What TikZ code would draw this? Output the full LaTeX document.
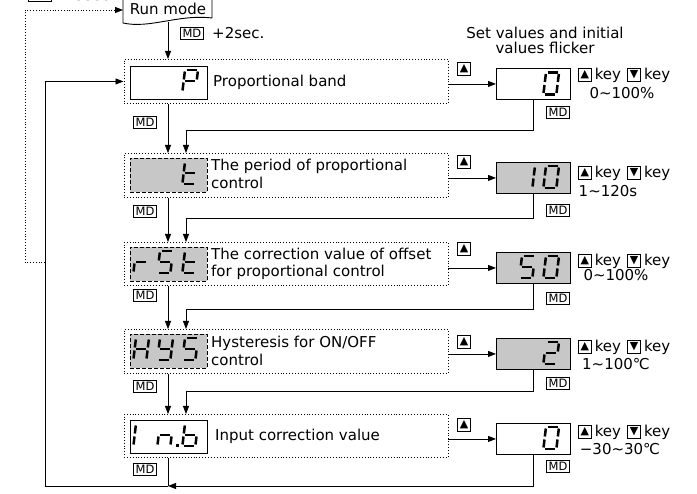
\documentclass[tikz,border=0pt]{standalone}
\usepackage{fontspec}
\setmainfont{DejaVu Sans}
\usetikzlibrary{arrows.meta, positioning, calc}

% seven segment pieces, origin at top left of a digit
\def\sega{(1.5,0) -- (11.5,0)}
\def\segb{(13,1.5) -- (13,9.5)}
\def\segc{(13,12.5) -- (13,20.5)}
\def\segd{(1.5,22) -- (11.5,22)}
\def\sege{(0,12.5) -- (0,20.5)}
\def\segf{(0,1.5) -- (0,9.5)}
\def\segg{(1.5,11) -- (11.5,11)}
\newcommand{\segchar}[3]{%
  \begin{scope}[shift={(#1,#2)}, xslant=0.12]
    \foreach \s in {#3} {
      \edef\segpath{\csname seg\s\endcsname}
      \draw[segline] \segpath;
    }
  \end{scope}}

\begin{document}
\begin{tikzpicture}[x=1pt, y=-1pt,
    grp/.style={draw, dotted, line width=0.9pt, anchor=north west, minimum width=324pt, minimum height=44pt, inner sep=0},
    disp/.style={draw, line width=0.9pt, anchor=north west, minimum width=77pt, minimum height=33pt, inner sep=0},
    dispgray/.style={disp, dash pattern=on 4pt off 2pt, fill=black!22},
    val/.style={draw, line width=0.9pt, anchor=north west, minimum width=74pt, minimum height=31pt, inner sep=0},
    lbl/.style={anchor=west, align=left, font=\fontsize{15}{17.5}\selectfont, inner sep=0},
    mdbox/.style={draw, line width=0.6pt, font=\fontsize{11.5}{11.5}\selectfont, inner xsep=2.2pt, inner ysep=1.8pt},
    keybox/.style={draw, line width=0.6pt, minimum size=13pt, inner sep=0, font=\fontsize{11}{11}\selectfont},
    flow/.style={-{Triangle[length=8pt, width=6pt]}, line width=0.8pt},
    segline/.style={line width=2.5pt, line cap=butt}]
\useasboundingbox (0,0) rectangle (697,494);

% columns
\coordinate (colA) at (168,0);
\coordinate (colB) at (186,0);
\coordinate (colL) at (45,0);

% run mode
\node[mdbox, anchor=south west] (mdtop) at (28,2) {MD};
\node[lbl, anchor=base west] (sec3) at (62,0.5) {+3sec.};
\draw[line width=0.9pt] (123,-5) -- (123,23) .. controls (150,29) and (178,14) .. (212,18) -- (212,-5);
\node[lbl, anchor=center] (run) at (168,9) {Run mode};
\coordinate (runw) at (123,10);
\coordinate (runs) at (168,22);
\node[mdbox, anchor=west] (mdrun) at (180,33) {MD};
\node[lbl] (sec2) at (212,33) {+2sec.};
\node[lbl, anchor=center, align=center, font=\fontsize{15}{15}\selectfont] (flick) at (545,40) {Set values and initial\\values flicker};

% groups
\node[grp] (grpP) at (123.5,59) {};
\node[grp] (grpT) at (123.5,153) {};
\node[grp, minimum height=43pt] (grpR) at (123.5,242) {};
\node[grp] (grpH) at (123.5,329) {};
\node[grp, minimum height=43pt] (grpI) at (123.5,414) {};

% displays
\node[disp] (dispP) at (130,66) {};
\node[dispgray, minimum height=34pt] (dispT) at (130,158) {};
\node[dispgray, minimum height=34pt] (dispR) at (130,247) {};
\node[dispgray, minimum height=34pt] (dispH) at (130,334) {};
\node[disp] (dispI) at (130,420) {};

\node[lbl] (txtP) at (213,82) {Proportional band};
\node[lbl] (txtT) at (211,174) {The period of proportional\\control};
\node[lbl] (txtR) at (211,264) {The correction value of offset\\for proportional control};
\node[lbl] (txtH) at (211,351) {Hysteresis for ON/OFF\\control};
\node[lbl] (txtI) at (215,436) {Input correction value};

% value boxes
\node[val] (valP) at (496,68) {};
\node[val, fill=black!22] (valT) at (496,162) {};
\node[val, fill=black!22] (valR) at (496,252) {};
\node[val, fill=black!22] (valH) at (496,338) {};
\node[val] (valI) at (496,423) {};

% digits
\segchar{185}{70}{a,b,f,g,e}
\segchar{185}{162}{f,e,d,g}
\segchar{136}{251}{e,g}
\segchar{160}{251}{a,f,g,c,d}
\segchar{185}{251}{f,e,d,g}
\segchar{136}{338}{b,c,e,f,g}
\segchar{160}{338}{b,c,d,f,g}
\segchar{185}{338}{a,f,g,c,d}
\segchar{136}{424}{e,f}
\segchar{160}{424}{c,e,g}
\segchar{185}{424}{c,d,e,f,g}
\fill (176,444) rectangle +(2.6,2.6);
\segchar{546}{72.5}{a,b,c,d,e,f}
\segchar{522}{166}{b,c}
\segchar{546}{166}{a,b,c,d,e,f}
\segchar{522}{256}{a,f,g,c,d}
\segchar{546}{256}{a,b,c,d,e,f}
\segchar{546}{342}{a,b,g,e,d}
\segchar{546}{427}{a,b,c,d,e,f}

% up keys on the arrows
\node[keybox] (kP) at (464,69) {▲};
\node[keybox] (kT) at (464,162) {▲};
\node[keybox] (kR) at (464,249) {▲};
\node[keybox] (kH) at (464,342) {▲};
\node[keybox] (kI) at (464,425) {▲};

% key lines
\foreach \r/\y in {P/75, T/173, R/261, H/347, I/432} {
  \node[keybox, anchor=west] (ku\r) at (578,\y) {▲};
  \node[lbl, right=3pt of ku\r] (kw\r) {key};
  \node[keybox, right=6pt of kw\r] (kd\r) {▼};
  \node[lbl, right=3pt of kd\r] (kx\r) {key};
}
\node[lbl, anchor=center] (rngP) at (622,93) {0∼100\%};
\node[lbl, anchor=center] (rngT) at (608,191) {1∼120s};
\node[lbl, anchor=center] (rngR) at (616,275) {0∼100\%};
\node[lbl, anchor=center] (rngH) at (616,364) {1∼100℃};
\node[lbl, anchor=center] (rngI) at (620,449) {−30∼30℃};

% MD labels
\node[mdbox, anchor=north east] (mdvP) at (570,106) {MD};
\node[mdbox, anchor=north east] (mdvT) at (570,204) {MD};
\node[mdbox, anchor=north east] (mdvR) at (570,292) {MD};
\node[mdbox, anchor=north east] (mdvH) at (570,377) {MD};
\node[mdbox, anchor=north east] (mdvI) at (570,460) {MD};
\node[mdbox, anchor=north east] (mdP) at (157,116) {MD};
\node[mdbox, anchor=north east] (mdT) at (157,205) {MD};
\node[mdbox, anchor=north east] (mdR) at (157,289) {MD};
\node[mdbox, anchor=north east] (mdH) at (157,380) {MD};
\node[mdbox, anchor=north east] (mdI) at (157,463) {MD};

% main flow
\draw[flow] (runs) -- (colA |- grpP.north);
\draw[flow] (colA |- grpP.south) -- (colA |- grpT.north);
\draw[flow] (colA |- grpT.south) -- (colA |- grpR.north);
\draw[flow] (colA |- grpR.south) -- (colA |- grpH.north);
\draw[flow] (colA |- grpH.south) -- (colA |- grpI.north);

% to the set values
\draw[flow] (valP.west -| grpP.east) -- (valP.west);
\draw[flow] (valT.west -| grpT.east) -- (valT.west);
\draw[flow] (valR.west -| grpR.east) -- (valR.west);
\draw[flow] (valH.west -| grpH.east) -- (valH.west);
\draw[flow] (valI.west -| grpI.east) -- (valI.west);

% back from the set values
\draw[flow] (valP.south) -- ++(0,31) -| (colB |- grpT.north);
\draw[flow] (valT.south) -- ++(0,25) -| (colB |- grpR.north);
\draw[flow] (valR.south) -- ++(0,26) -| (colB |- grpH.north);
\draw[flow] (valH.south) -- ++(0,22) -| (colB |- grpI.north);
\coordinate (retI) at (168,486);
\draw[flow] (valI.south) |- (retI);
\draw[line width=0.8pt] (colA |- grpI.south) -- (retI);
\draw[flow] (retI) -| (colL |- grpP.west) -- (grpP.west);

% back to run mode
\coordinate (dotc) at (45,262);
\coordinate (dotk) at (25,10);
\draw[flow, dotted] (dotc) -| (dotk) -- (runw);
\end{tikzpicture}
\end{document}
